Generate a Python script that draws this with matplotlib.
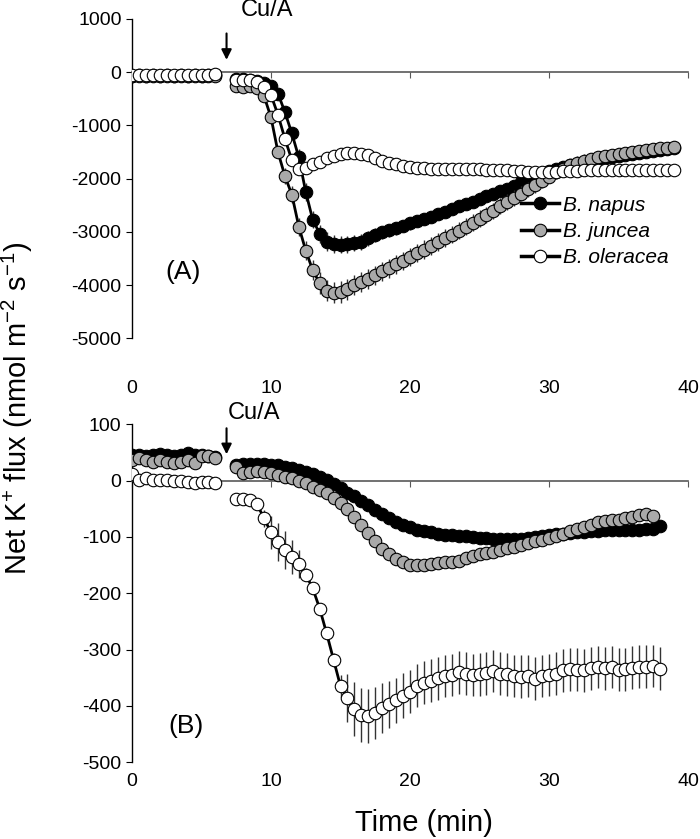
import numpy as np
import matplotlib
matplotlib.use("Agg")
import matplotlib.pyplot as plt
from matplotlib.lines import Line2D

plt.rcParams['font.family'] = ['Liberation Sans', 'DejaVu Sans']
plt.rcParams['mathtext.fontset'] = 'custom'
plt.rcParams['mathtext.rm'] = 'Liberation Sans'
plt.rcParams['mathtext.it'] = 'Liberation Sans:italic'
plt.rcParams['axes.unicode_minus'] = False

# time axis (min): before and after Cu/A addition, 0.5 min sampling
t_pre = np.arange(0, 6.01, 0.5)
t_post_a = np.arange(7.5, 39.01, 0.5)
t_post_b = np.arange(7.5, 38.01, 0.5)

# ---- panel A ----
napus_a_pre = [-70, -60, -70, -60, -70, -60, -70, -60, -70, -60, -70, -60, -60]
juncea_a_pre = [-80, -80, -70, -80, -80, -70, -80, -80, -70, -80, -80, -70, -80]
oler_a_pre = [-50, -50, -60, -50, -50, -60, -50, -50, -60, -50, -50, -50, -40]
napus_a = [-120, -130, -140, -160, -200, -250, -400, -750, -1150, -1600,
           -2250, -2770, -3030, -3180, -3230, -3240, -3230, -3210, -3180, -3120,
           -3060, -3010, -2970, -2930, -2890, -2840, -2800, -2760, -2720, -2670,
           -2620, -2570, -2520, -2480, -2430, -2380, -2330, -2290, -2240, -2190,
           -2130, -2070, -2000, -1940, -1890, -1850, -1810, -1780, -1750, -1720,
           -1700, -1670, -1650, -1620, -1600, -1580, -1560, -1540, -1520, -1500,
           -1480, -1460, -1440, -1420]
juncea_a = [-250, -270, -260, -300, -450, -850, -1500, -1950, -2300, -2900,
            -3350, -3720, -3960, -4100, -4140, -4130, -4080, -4000, -3940, -3880,
            -3810, -3740, -3680, -3610, -3540, -3470, -3400, -3330, -3260, -3190,
            -3120, -3050, -2980, -2900, -2830, -2750, -2680, -2600, -2520, -2440,
            -2360, -2280, -2200, -2120, -2040, -1960, -1880, -1810, -1750, -1700,
            -1660, -1630, -1600, -1580, -1560, -1540, -1520, -1500, -1480, -1470,
            -1450, -1430, -1420, -1400]
oler_a = [-150, -140, -150, -180, -270, -430, -800, -1250, -1650, -1820,
          -1790, -1730, -1680, -1620, -1570, -1540, -1520, -1510, -1530, -1560,
          -1610, -1660, -1700, -1730, -1760, -1780, -1790, -1800, -1810, -1810,
          -1820, -1820, -1820, -1820, -1820, -1820, -1830, -1830, -1840, -1840,
          -1850, -1860, -1870, -1870, -1880, -1880, -1870, -1860, -1850, -1850,
          -1840, -1840, -1830, -1830, -1830, -1830, -1830, -1830, -1830, -1830,
          -1830, -1830, -1830, -1830]
napus_a_err = [30, 30, 30, 40, 50, 60, 80, 100, 120, 150,
               160, 160, 170, 170, 170, 160, 160, 150, 150, 140,
               130, 130, 120, 120, 120, 120, 110, 110, 110, 110,
               100, 100, 100, 100, 100, 100, 90, 90, 90, 90,
               90, 80, 80, 80, 80, 80, 70, 70, 70, 70,
               70, 70, 70, 70, 60, 60, 60, 60, 60, 60,
               60, 60, 60, 60]
juncea_a_err = [40, 40, 40, 50, 60, 80, 120, 150, 160, 170,
                180, 190, 200, 200, 200, 200, 200, 190, 190, 190,
                180, 180, 180, 180, 170, 170, 170, 170, 170, 170,
                170, 160, 160, 160, 160, 160, 150, 150, 150, 150,
                150, 140, 140, 140, 130, 130, 130, 120, 120, 120,
                120, 110, 110, 110, 110, 100, 100, 100, 100, 100,
                100, 100, 100, 100]
oler_a_err = [30, 30, 30, 40, 60, 80, 100, 100, 90, 70,
              60, 60, 50, 50, 50, 50, 50, 50, 50, 50,
              50, 50, 50, 50, 50, 50, 50, 50, 50, 50,
              50, 50, 50, 50, 50, 50, 50, 50, 50, 50,
              50, 50, 50, 50, 50, 50, 50, 50, 50, 50,
              50, 50, 50, 50, 50, 50, 50, 50, 50, 50,
              50, 50, 50, 50]

# ---- panel B ----
napus_b_pre = [45, 46, 44, 45, 47, 45, 44, 46, 49, 45, 46, 44, 42]
juncea_b_pre = [37, 40, 37, 34, 37, 34, 31, 34, 37, 31, 43, 43, 40]
oler_b_pre = [11, 1, 4, 1, 1, 1, 0, -1, -2, -5, -2, -2, -5]
napus_b = [28, 30, 30, 30, 29, 28, 27, 25, 22, 19,
           15, 11, 6, 1, -6, -13, -21, -28, -36, -44,
           -52, -60, -67, -74, -79, -83, -87, -90, -92, -94,
           -96, -97, -98, -99, -100, -101, -102, -103, -104, -104,
           -104, -103, -102, -100, -98, -97, -95, -94, -93, -92,
           -91, -90, -89, -88, -88, -88, -87, -87, -87, -86,
           -85, -80]
juncea_b = [24, 14, 16, 17, 16, 13, 10, 7, 4, 0,
            -5, -11, -16, -22, -31, -40, -50, -64, -79, -93,
            -108, -121, -131, -139, -145, -149, -150, -149, -148, -146,
            -145, -144, -142, -138, -134, -130, -128, -126, -123, -120,
            -117, -114, -111, -108, -105, -102, -98, -94, -90, -86,
            -82, -78, -74, -72, -70, -69, -67, -64, -61, -60,
            -62]
oler_b = [-32, -32, -34, -42, -67, -92, -109, -123, -136, -148,
          -167, -191, -227, -271, -318, -365, -386, -406, -416, -418,
          -413, -404, -397, -390, -382, -375, -364, -359, -355, -351,
          -347, -345, -340, -343, -345, -344, -342, -338, -343, -344,
          -347, -348, -347, -352, -347, -345, -343, -337, -335, -336,
          -337, -333, -331, -333, -331, -336, -335, -332, -330, -330,
          -329, -334]
oler_b_err = [5, 5, 5, 8, 15, 30, 33, 33, 30, 25,
              12, 10, 10, 10, 12, 20, 42, 48, 48, 48,
              46, 44, 42, 40, 40, 38, 38, 38, 38, 38,
              38, 38, 38, 38, 38, 38, 38, 38, 38, 38,
              38, 38, 38, 38, 38, 38, 38, 38, 38, 38,
              38, 38, 38, 38, 38, 38, 38, 38, 38, 38,
              38, 38]

species = ['B. napus', 'B. juncea', 'B. oleracea']
faces = ['black', '#A9A9A9', 'white']


def join(pre, post, t_post):
    t = np.concatenate([t_pre, [np.nan], t_post[:len(post)]])
    y = np.concatenate([pre, [np.nan], post])
    return t, y


def draw(ax, series):
    for i, (pre, post, tp, err_pre, err_post) in enumerate(series):
        t, y = join(pre, post, tp)
        e = np.concatenate([np.full(len(pre), err_pre), [np.nan],
                            np.broadcast_to(err_post, len(post))])
        ax.errorbar(t, y, yerr=e, fmt='-o', color='black', lw=2.0,
                    mfc=faces[i], mec='black', mew=0.8, ms=9,
                    ecolor='#333333', elinewidth=1.0, capsize=0,
                    zorder=3 + i)


def style(ax, ylim, yticks, pad):
    ax.set_xlim(0, 40)
    ax.set_ylim(*ylim)
    ax.set_yticks(yticks)
    ax.spines['top'].set_visible(False)
    ax.spines['right'].set_visible(False)
    ax.spines['bottom'].set_position(('data', 0))
    ax.spines['bottom'].set_color('#595959')
    ax.spines['bottom'].set_linewidth(1.2)
    ax.spines['left'].set_linewidth(1.0)
    ax.set_xticks([0, 10, 20, 30, 40])
    ax.tick_params(axis='x', direction='out', length=4, color='#595959',
                   labelbottom=False)
    ax.tick_params(axis='y', direction='out', length=4, labelsize=14)
    sec = ax.secondary_xaxis('bottom')
    sec.spines['bottom'].set_visible(False)
    sec.set_xticks([0, 10, 20, 30, 40])
    sec.tick_params(length=0, labelsize=14, pad=pad)
    return sec


fig = plt.figure(figsize=(7, 8.39), dpi=100)
ax1 = fig.add_axes([0.1886, 0.5966, 0.7943, 0.3808])
ax2 = fig.add_axes([0.1886, 0.0915, 0.7943, 0.4027])

draw(ax1, [(napus_a_pre, napus_a, t_post_a, 30, napus_a_err),
           (juncea_a_pre, juncea_a, t_post_a, 30, juncea_a_err),
           (oler_a_pre, oler_a, t_post_a, 20, oler_a_err)])
style(ax1, (-5000, 1000), range(-5000, 1001, 1000), pad=30)

draw(ax2, [(napus_b_pre, napus_b, t_post_b, 4, 4),
           (juncea_b_pre, juncea_b, t_post_b, 5, 5),
           (oler_b_pre, oler_b, t_post_b, 3, oler_b_err)])
style(ax2, (-500, 100), range(-500, 101, 100), pad=8)

# Cu/A addition markers
arrow = dict(arrowstyle='-|>', color='black', lw=1.5, mutation_scale=15)
ax1.annotate('', xy=(6.8, 180), xytext=(6.8, 780), arrowprops=arrow,
             annotation_clip=False)
ax1.text(7.8, 1170, 'Cu/A', fontsize=17, ha='left', va='center', clip_on=False)
ax2.annotate('', xy=(6.8, 42), xytext=(6.8, 98), arrowprops=arrow,
             annotation_clip=False)
ax2.text(6.9, 120, 'Cu/A', fontsize=17, ha='left', va='center', clip_on=False)

ax1.text(3.7, -3760, '(A)', fontsize=19, ha='center', va='center')
ax2.text(3.9, -436, '(B)', fontsize=19, ha='center', va='center')

handles = [Line2D([], [], color='black', lw=2.5, marker='o', ms=9,
                  mfc=faces[i], mec='black', mew=0.8) for i in range(3)]
ax1.legend(handles, species, loc='center left', bbox_to_anchor=(0.70, 0.335),
           frameon=False, numpoints=1, handlelength=1.8, handletextpad=0.2,
           labelspacing=0.35, borderpad=0, borderaxespad=0,
           prop={'size': 15, 'style': 'italic'})

fig.text(0.025, 0.514, r'Net K$^{+}$ flux (nmol m$^{-2}$ s$^{-1}$)',
         rotation=90, fontsize=21, ha='center', va='center')
fig.text(0.606, 0.019, 'Time (min)', fontsize=21, ha='center', va='center')

fig.savefig('out.png', dpi=100)
